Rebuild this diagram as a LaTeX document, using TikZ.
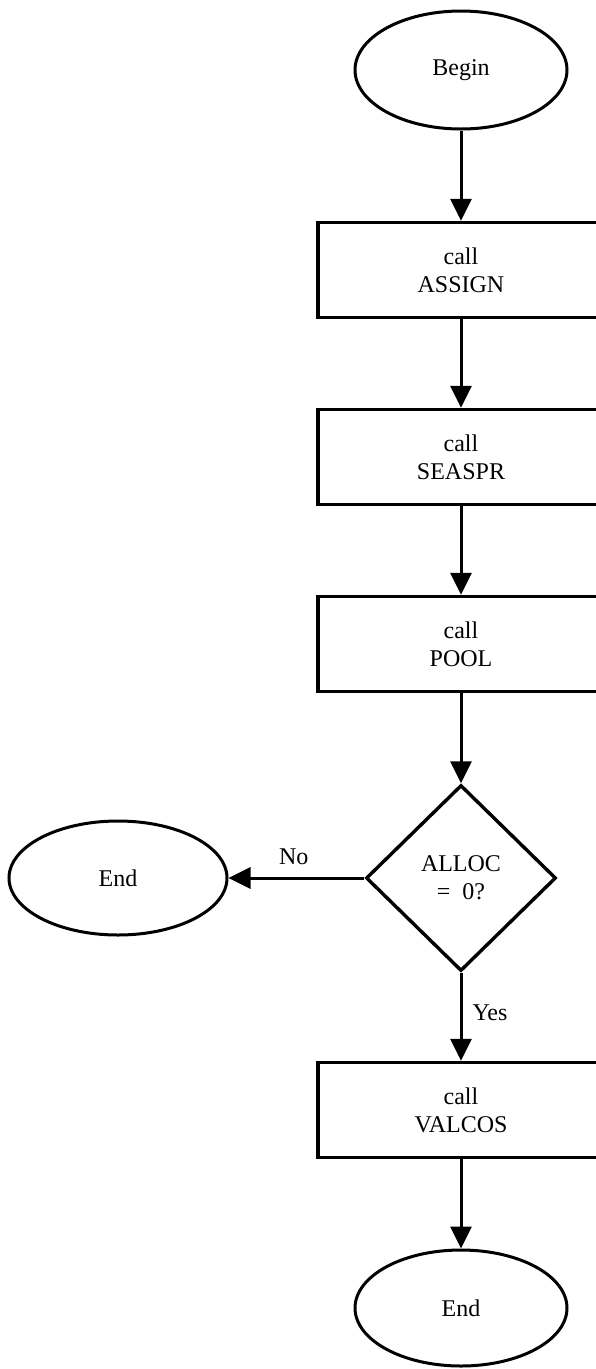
\documentclass[tikz,border=0pt]{standalone}
\usepackage{fontspec}
\setmainfont{Liberation Serif}
\usetikzlibrary{shapes.geometric,arrows.meta}
\tikzset{
  x=1pt, y=1pt,
  every node/.style={font=\fontsize{24}{28}\selectfont, align=center, inner sep=0pt},
  term/.style={draw, line width=3pt, ellipse, minimum width=212pt, minimum height=118pt},
  procbox/.style={draw, line width=3.4pt, rectangle, minimum width=286pt, minimum height=95pt},
  decide/.style={draw, line width=3.4pt, diamond, aspect=1, minimum width=190pt, minimum height=186pt},
  flow/.style={line width=3pt, -{Triangle[length=22pt,width=21pt]}},
  lbl/.style={font=\fontsize{24}{28}\selectfont}
}
\begin{document}
\begin{tikzpicture}
\clip (0,0) rectangle (596,-1369);
\fill[white] (0,0) rectangle (596,-1369);

\node[term] (begin) at (461,-70) {Begin};
\node[procbox] (assign) at (461,-270) {call\\ASSIGN};
\node[procbox] (seaspr) at (461,-457) {call\\SEASPR};
\node[procbox] (pool) at (461,-644) {call\\POOL};
\node[decide] (dec) at (461,-878) {ALLOC\\=\enspace 0?};
\node[term, minimum width=218pt, minimum height=114pt] (endl) at (118,-878) {End};
\node[procbox] (valcos) at (461,-1110) {call\\VALCOS};
\node[term, minimum height=116pt] (endb) at (461,-1308) {End};

\draw[flow] (begin) -- (assign);
\draw[flow] (assign) -- (seaspr);
\draw[flow] (seaspr) -- (pool);
\draw[flow] (pool) -- (dec);
\draw[flow] (dec.west) -- node[lbl, above=12pt, pos=0.52] {No} (endl.east);
\draw[flow] (dec.south) -- node[lbl, right=10pt, pos=0.46] {Yes} (valcos.north);
\draw[flow] (valcos) -- (endb);
\end{tikzpicture}
\end{document}
